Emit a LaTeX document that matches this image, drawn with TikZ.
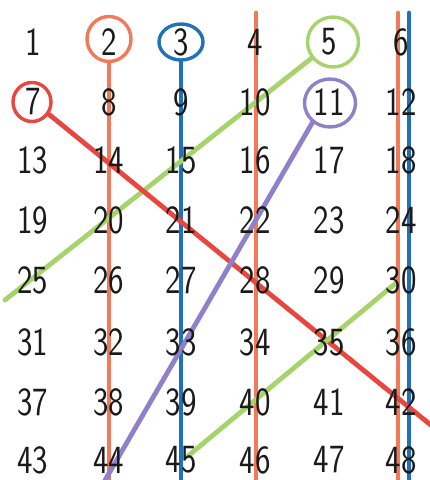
\documentclass[tikz,border=0pt]{standalone}
\usetikzlibrary{shapes.geometric}
\definecolor{lorange}{HTML}{F07A5A}
\definecolor{lblue}{HTML}{1F72BA}
\definecolor{lgreen}{HTML}{A6D36A}
\definecolor{lred}{HTML}{E8463F}
\definecolor{lpurple}{HTML}{8F80CC}
\definecolor{ink}{HTML}{1A1A1A}
\begin{document}
\begin{tikzpicture}[x=1pt,y=-1pt,
  ring/.style={draw,line width=3.4pt,inner sep=0pt,ellipse},
  stroke/.style={line width=4.8pt,line cap=round},
  num/.style={font=\sffamily\fontsize{40}{40}\selectfont,xscale=0.82,inner sep=0pt,text=ink}]
\useasboundingbox[fill=white] (0,0) rectangle (430,480);
% circles
\node[ring,draw=lorange,minimum width=44pt,minimum height=45pt] (c2) at (109,39) {};
\node[ring,draw=lblue,minimum width=44pt,minimum height=36pt] (c3) at (181,42) {};
\node[ring,draw=lgreen,minimum width=51pt,minimum height=50pt] (c5) at (333,42) {};
\node[ring,draw=lred,minimum width=38pt,minimum height=39pt] (c7) at (32,102) {};
\node[ring,draw=lpurple,minimum width=51pt,minimum height=48pt] (c11) at (330,103) {};
% free ends
\coordinate (e2) at (109,482);
\coordinate (e3) at (181,482);
\coordinate (t4) at (256,13);
\coordinate (e4) at (256,482);
\coordinate (t6o) at (398,13);
\coordinate (e6o) at (398,482);
\coordinate (t6b) at (409,13);
\coordinate (e6b) at (409,482);
\coordinate (r7) at (432,426);
\coordinate (g1) at (5,300);
\coordinate (p11) at (104,482);
\coordinate (g2a) at (396,283);
\coordinate (g2b) at (188,456);
% lines
\draw[stroke,lorange] (c2.south) -- (e2);
\draw[stroke,lblue] (c3.south) -- (e3);
\draw[stroke,lorange] (t4) -- (e4);
\draw[stroke,lorange] (t6o) -- (e6o);
\draw[stroke,lblue] (t6b) -- (e6b);
\draw[stroke,lgreen] (c5.217) -- (g1);
\draw[stroke,lred] (c7.324) -- (r7);
\draw[stroke,lpurple] (c11.228) -- (p11);
\draw[stroke,lgreen] (g2a) -- (g2b);
% numbers
\foreach \y [count=\r from 0] in {42,102,160,220,280,342,402,460}
  \foreach \x [count=\c] in {33,109,181,255,329,401}
  {\pgfmathtruncatemacro{\n}{6*\r+\c}
   \node[num] (n\n) at (\x,\y) {\n};}
\end{tikzpicture}
\end{document}
